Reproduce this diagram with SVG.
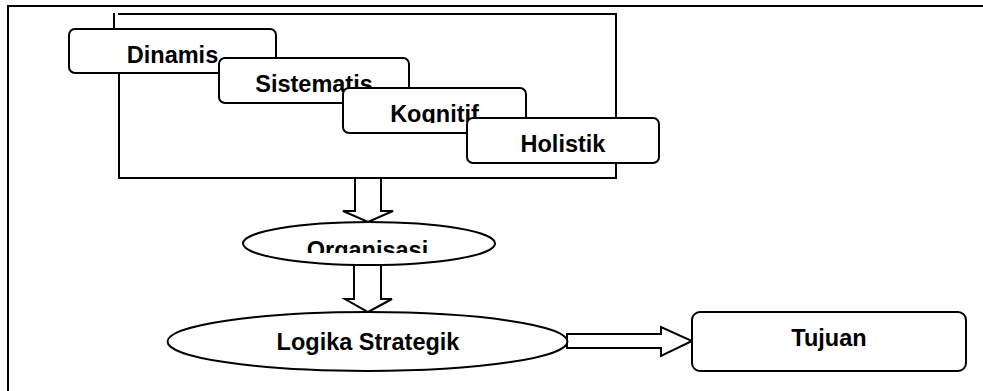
<svg xmlns="http://www.w3.org/2000/svg" width="983" height="391" viewBox="0 0 983 391">
<style>
.frame{fill:none;stroke:#000;stroke-width:2}
.box{fill:#fff;stroke:#000;stroke-width:2}
.arrow{fill:#fff;stroke:#000;stroke-width:2;stroke-linejoin:miter}
.lbl{font-family:"Liberation Sans",Arial,sans-serif;font-weight:bold;font-size:23.5px;fill:#000;text-anchor:middle}
</style>
<defs>
<clipPath id="clipKog"><rect x="343" y="88" width="183" height="35"/></clipPath>
<clipPath id="clipOrg"><rect x="243" y="222" width="252" height="31"/></clipPath>
</defs>
<rect width="983" height="391" fill="#fff"/>
<g id="outer-frame">
<path class="frame" d="M8,391 V6 H983"/>
</g>
<g id="inner-frame">
<path class="frame" d="M114,13 V29 M118,14 H616 V178 H119 V29"/>
</g>
<g id="connectors">
<polygon class="arrow" points="355,178 355,211 343,211 368,222 393,211 381,211 381,178"/>
<polygon class="arrow" points="354,265 354,299 345,299 368,312 392,299 381,299 381,265"/>
<polygon class="arrow" points="567,334 661,334 661,327 692,341 661,356 661,348 567,348"/>
</g>
<g id="dinamis">
<rect class="box" x="69" y="29" width="207" height="44" rx="6"/>
<text class="lbl" x="172.5" y="63">Dinamis</text>
</g>
<g id="sistematis">
<rect class="box" x="219" y="58" width="190" height="45" rx="6"/>
<text class="lbl" x="314" y="92">Sistematis</text>
</g>
<g id="kognitif">
<rect class="box" x="343" y="88" width="183" height="45" rx="6"/>
<text class="lbl" x="434.5" y="122" clip-path="url(#clipKog)">Kognitif</text>
</g>
<g id="holistik">
<rect class="box" x="467" y="118" width="192" height="45" rx="6"/>
<text class="lbl" x="563" y="152">Holistik</text>
</g>
<g id="organisasi">
<ellipse class="box" cx="369" cy="243.5" rx="126" ry="21.5"/>
<text class="lbl" x="367.5" y="258" clip-path="url(#clipOrg)">Organisasi</text>
</g>
<g id="logika-strategik">
<ellipse class="box" cx="367.5" cy="341.5" rx="200" ry="29.5"/>
<text class="lbl" x="368" y="350">Logika Strategik</text>
</g>
<g id="tujuan">
<rect class="box" x="692" y="312" width="274" height="59" rx="8"/>
<text class="lbl" x="829" y="346">Tujuan</text>
</g>
</svg>
